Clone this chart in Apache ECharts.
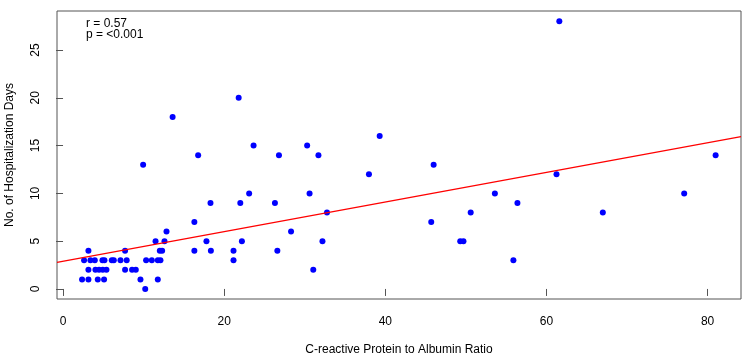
<!DOCTYPE html>
<html>
<head>
<meta charset="utf-8">
<script src="https://cdn.jsdelivr.net/npm/echarts@6/dist/echarts.min.js"></script>
<style>
  html, body { margin: 0; padding: 0; background: #fff; }
  #chart { width: 750px; height: 361px; }
</style>
</head>
<body>
<div id="chart"></div>
<script>
// CRP/albumin ratio (x) vs hospitalization days (y)
var ratioValues = [
  10.2,
  2.36, 3.15, 4.31, 5.09, 9.61, 11.76,
  3.15, 4.02, 4.47, 4.93, 5.39, 7.7, 8.57, 9.03, 31.06,
  2.61, 3.4, 3.94, 4.89, 5.14, 6.05, 6.3, 7.13, 7.9, 10.31, 11.02, 11.76, 12.09, 21.16, 55.9,
  3.15, 7.7, 12.01, 12.3, 16.3, 18.35, 21.16, 26.6,
  11.48, 12.59, 17.8, 22.2, 32.2, 49.3, 49.7,
  12.84, 28.3,
  16.3, 45.7,
  32.76, 50.6, 67.0,
  18.3, 22.0, 26.3, 56.4,
  23.1, 30.6, 53.6, 77.1,
  37.97, 61.25,
  9.94, 46.0,
  16.77, 26.8, 31.7, 81.0,
  23.65, 30.3,
  39.3,
  13.6,
  21.8,
  61.6
];
var hospDays = [
  0,
  1, 1, 1, 1, 1, 1,
  2, 2, 2, 2, 2, 2, 2, 2, 2,
  3, 3, 3, 3, 3, 3, 3, 3, 3, 3, 3, 3, 3, 3, 3,
  4, 4, 4, 4, 4, 4, 4, 4,
  5, 5, 5, 5, 5, 5, 5,
  6, 6,
  7, 7,
  8, 8, 8,
  9, 9, 9, 9,
  10, 10, 10, 10,
  12, 12,
  13, 13,
  14, 14, 14, 14,
  15, 15,
  16,
  18,
  20,
  28
];
var xTicks = [0, 20, 40, 60, 80];
var yTicks = [0, 5, 10, 15, 20, 25];
var fitIntercept = 2.908;
var fitSlope = 0.1548;
var statLines = ['r = 0.57', 'p = <0.001'];

var xMin = -0.75, xMax = 84.15;
var yMin = -1.05, yMax = 29.08;

var points = [];
ratioValues.forEach(function (v, i) {
  points.push([v, hospDays[i]]);
});
var fitLine = [
  [xMin, fitIntercept + fitSlope * xMin],
  [xMax, fitIntercept + fitSlope * xMax]
];

var font = 'Liberation Sans, Arial, sans-serif';
var boxColor = '#555';

var chart = echarts.init(document.getElementById('chart'));
chart.setOption({
  animation: false,
  grid: {
    left: 57, right: 9, top: 11, bottom: 62,
    containLabel: false,
    outerBoundsMode: 'none',
    show: true,
    borderColor: boxColor,
    borderWidth: 1,
    backgroundColor: 'transparent'
  },
  xAxis: {
    type: 'value',
    min: xMin, max: xMax,
    name: 'C-reactive Protein to Albumin Ratio',
    nameLocation: 'middle',
    nameGap: 45,
    nameTextStyle: { color: '#000', fontSize: 12, fontFamily: font },
    axisLine: { show: false },
    splitLine: { show: false },
    axisTick: { show: true, length: 7, customValues: xTicks, lineStyle: { color: boxColor } },
    axisLabel: { customValues: xTicks, margin: 17, color: '#000', fontSize: 12, fontFamily: font }
  },
  yAxis: {
    type: 'value',
    min: yMin, max: yMax,
    name: 'No. of Hospitalization Days',
    nameLocation: 'middle',
    nameGap: 41,
    nameTextStyle: { color: '#000', fontSize: 12, fontFamily: font },
    axisLine: { show: false },
    splitLine: { show: false },
    axisTick: { show: true, length: 7, customValues: yTicks, lineStyle: { color: boxColor } },
    axisLabel: { customValues: yTicks, rotate: 90, margin: 15, color: '#000', fontSize: 12, fontFamily: font }
  },
  graphic: [
    { type: 'text', left: 86, top: 18, style: { text: statLines[0], fill: '#000', font: '12px ' + font } },
    { type: 'text', left: 86, top: 29, style: { text: statLines[1], fill: '#000', font: '12px ' + font } }
  ],
  series: [
    {
      type: 'scatter',
      data: points,
      symbol: 'circle',
      symbolSize: 6,
      itemStyle: { color: '#0000ff', opacity: 1 },
      z: 2
    },
    {
      type: 'line',
      data: fitLine,
      symbol: 'none',
      lineStyle: { color: '#ff0000', width: 1.3 },
      z: 3
    }
  ]
});
</script>
</body>
</html>
